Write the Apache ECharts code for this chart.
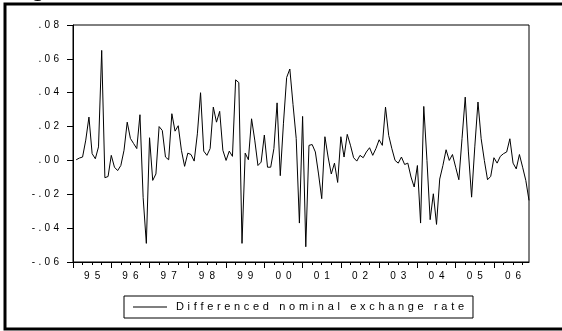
<!DOCTYPE html>
<html>
<head>
<meta charset="utf-8">
<script src="https://cdn.jsdelivr.net/npm/echarts@6/dist/echarts.min.js"></script>
<style>
  html, body { margin: 0; padding: 0; background: #fff; }
  #chart { width: 562px; height: 331px; }
</style>
</head>
<body>
<div id="chart"></div>
<script>
const years = [1995, 1996, 1997, 1998, 1999, 2000, 2001, 2002, 2003, 2004, 2005, 2006];
const seriesName = "Differenced nominal exchange rate";
const yTicks = { min: -0.06, max: 0.08, step: 0.02 };

// monthly values, one row per year (first month has no difference)
const diffRate = [
  null, 0.0004, 0.0014, 0.002, 0.012, 0.0256, 0.004, 0.001, 0.008, 0.065, -0.0102, -0.0095,
  0.003, -0.004, -0.006, -0.003, 0.006, 0.0226, 0.013, 0.010, 0.007, 0.027, -0.022, -0.049,
  0.0134, -0.0118, -0.008, 0.020, 0.0177, 0.002, 0.0004, 0.0276, 0.0173, 0.0205, 0.006, -0.0035,
  0.0043, 0.0035, -0.0004, 0.0157, 0.040, 0.0055, 0.003, 0.007, 0.0315, 0.0226, 0.029, 0.006,
  0.0, 0.0055, 0.0024, 0.0476, 0.046, -0.049, 0.0043, 0.0004, 0.0246, 0.012, -0.003, -0.001,
  0.015, -0.004, -0.004, 0.007, 0.034, -0.009, 0.022, 0.049, 0.054, 0.033, 0.013, -0.037,
  0.026, -0.051, 0.0089, 0.0094, 0.005, -0.008, -0.0226, 0.014, 0.002, -0.008, -0.0016, -0.013,
  0.014, 0.002, 0.0154, 0.009, 0.0016, -0.0004, 0.003, 0.0016, 0.005, 0.0075, 0.003, 0.007,
  0.0122, 0.0089, 0.0315, 0.0148, 0.0069, 0.0, -0.0016, 0.002, -0.0024, -0.0016, -0.0098, -0.0157,
  -0.003, -0.037, 0.0319, 0.0, -0.035, -0.0197, -0.0378, -0.011, -0.003, 0.0063, 0.0, 0.0035,
  -0.004, -0.0114, 0.013, 0.0374, 0.005, -0.0217, 0.008, 0.0345, 0.0128, 0.0, -0.0114, -0.0094,
  0.0016, -0.0016, 0.0024, 0.004, 0.005, 0.0128, -0.0016, -0.005, 0.0035, -0.004, -0.0118, -0.0236
];

const months = [];
years.forEach(y => {
  for (let m = 1; m <= 12; m++) months.push(y + "M" + (m < 10 ? "0" + m : m));
});

// eviews style: letters spread out
const spread = (s, gap) => s.split("").join(gap);
const FONT = "Liberation Sans";

const chart = echarts.init(document.getElementById("chart"));
chart.setOption({
  animation: false,
  grid: {
    left: 73, top: 25, right: 33, bottom: 69,
    show: true, borderColor: "#000", borderWidth: 1
  },
  xAxis: [
    {
      type: "category",
      data: months,
      boundaryGap: false,
      position: "bottom",
      axisLine: { onZero: false, lineStyle: { color: "#000", width: 1 } },
      axisTick: {
        length: 6,
        interval: (i) => i % 12 === 0,
        lineStyle: { color: "#000" }
      },
      axisLabel: {
        interval: (i) => i % 12 === 6,
        margin: 9,
        color: "#000",
        fontFamily: FONT,
        fontSize: 10,
        formatter: (v) => spread(v.slice(2, 4), "\u2002")
      },
      splitLine: { show: false }
    },
    {
      type: "category",
      data: months,
      boundaryGap: false,
      position: "bottom",
      axisLine: { show: false, onZero: false },
      axisTick: {
        length: 3,
        interval: (i) => i % 3 === 0 && i % 12 !== 0,
        lineStyle: { color: "#000" }
      },
      axisLabel: { show: false },
      splitLine: { show: false }
    }
  ],
  yAxis: {
    type: "value",
    min: yTicks.min,
    max: yTicks.max,
    interval: yTicks.step,
    axisLine: { show: true, lineStyle: { color: "#000", width: 1 } },
    axisTick: { show: true, length: 6, lineStyle: { color: "#000" } },
    splitLine: { show: false },
    axisLabel: {
      margin: 14,
      color: "#000",
      fontFamily: FONT,
      fontSize: 10,
      formatter: (v) => {
        let s = Math.abs(v).toFixed(2).replace(/^0/, "");
        if (v < -1e-9) s = "-" + s;
        return spread(s, "\u2004");
      }
    }
  },
  legend: {
    left: 124,
    top: 296,
    padding: [5, 9, 5, 9],
    icon: "rect",
    itemWidth: 34,
    itemHeight: 1,
    itemStyle: { color: "#000" },
    borderColor: "#000",
    borderWidth: 1,
    borderRadius: 0,
    textStyle: {
      color: "#000",
      fontFamily: FONT,
      fontSize: 11,
      lineHeight: 12,
      padding: [0, 0, 0, 4]
    },
    formatter: (name) => spread(name, "\u2004")
  },
  graphic: [
    {
      type: "rect",
      silent: true,
      shape: { x: 5, y: 4, width: 600, height: 325 },
      style: { fill: "none", stroke: "#000", lineWidth: 3 }
    },
    {
      type: "text",
      silent: true,
      x: 30, y: -13,
      style: { text: "g", font: "28px 'Liberation Sans'", fill: "#000", verticalAlign: "middle" }
    }
  ],
  series: [
    {
      name: seriesName,
      type: "line",
      data: diffRate,
      symbol: "none",
      connectNulls: false,
      lineStyle: { color: "#000", width: 1 },
      itemStyle: { color: "#000" }
    }
  ]
});
</script>
</body>
</html>
